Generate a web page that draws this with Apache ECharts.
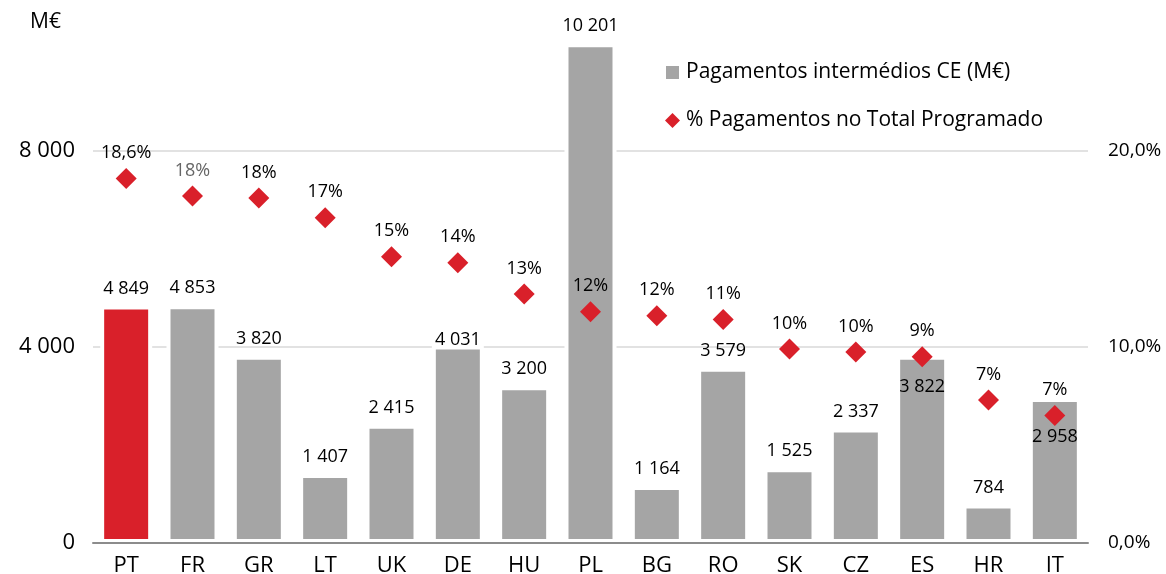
<!DOCTYPE html>
<html>
<head>
<meta charset="utf-8">
<script src="https://cdn.jsdelivr.net/npm/echarts@6/dist/echarts.min.js"></script>
<style>
  html, body { margin: 0; padding: 0; background: #fff; }
  #chart { width: 1166px; height: 574px; }
</style>
</head>
<body>
<div id="chart"></div>
<script>
// dados
var countries = ['PT', 'FR', 'GR', 'LT', 'UK', 'DE', 'HU', 'PL', 'BG', 'RO', 'SK', 'CZ', 'ES', 'HR', 'IT'];
var payments = [4849, 4853, 3820, 1407, 2415, 4031, 3200, 10201, 1164, 3579, 1525, 2337, 3822, 784, 2958];
var pctValues = [18.6, 17.7, 17.6, 16.6, 14.6, 14.3, 12.7, 11.8, 11.6, 11.4, 9.9, 9.75, 9.5, 7.3, 6.5];
var pctLabels = ['18,6%', '18%', '18%', '17%', '15%', '14%', '13%', '12%', '12%', '11%', '10%', '10%', '9%', '7%', '7%'];
var leftTicks = [0, 4000, 8000];
var rightTicks = [0, 10, 20];

var barName = 'Pagamentos intermédios CE (M€)';
var pctName = '% Pagamentos no Total Programado';

var RED = '#d9202a';
var GREY = '#a5a5a5';

function fmtThousands(v) {
    return String(v).replace(/\B(?=(\d{3})+(?!\d))/g, ' ');
}

// etiquetas que ficam dentro da barra (para não tapar os losangos)
var labelTweaks = {
    'DE': {position: 'top', distance: -3},
    'ES': {position: 'insideTop', distance: 22},
    'IT': {position: 'insideTop', distance: 30}
};

var barData = payments.map(function (v, i) {
    var item = {value: v};
    if (countries[i] === 'PT') item.itemStyle = {color: RED};
    if (labelTweaks[countries[i]]) item.label = labelTweaks[countries[i]];
    return item;
});

var pctData = pctValues.map(function (v, i) {
    var item = {value: v};
    if (countries[i] === 'FR') item.label = {color: '#666'};
    return item;
});

var chart = echarts.init(document.getElementById('chart'));
chart.setOption({
    animation: false,
    textStyle: {fontFamily: 'Open Sans'},
    grid: {left: 93, right: 78, top: -45, bottom: 31, containLabel: false, outerBoundsMode: 'none'},
    legend: {
        orient: 'vertical',
        left: 659,
        top: 57,
        itemGap: 27,
        itemWidth: 15,
        itemHeight: 15,
        textStyle: {fontSize: 21, color: '#000', fontFamily: 'Open Sans', padding: [0, 0, 0, 1]},
        data: [{name: barName, icon: 'rect'}, {name: pctName, icon: 'diamond'}]
    },
    graphic: [{
        type: 'text',
        left: 30,
        top: 12,
        style: {text: 'M€', font: '21px "Open Sans"', fill: '#000'}
    }],
    xAxis: {
        type: 'category',
        data: countries,
        z: 5,
        axisLine: {lineStyle: {color: '#8c8c8c', width: 2}},
        axisTick: {show: false},
        axisLabel: {fontSize: 22, color: '#000', margin: 12}
    },
    yAxis: [{
        type: 'value',
        min: 0,
        max: 12000,
        interval: 4000,
        axisLine: {show: false},
        axisTick: {show: false},
        splitLine: {lineStyle: {color: '#d9d9d9', width: 1.5}},
        axisLabel: {
            fontSize: 22, color: '#000', margin: 18,
            formatter: function (v) { return leftTicks.indexOf(v) >= 0 ? fmtThousands(v) : ''; }
        }
    }, {
        type: 'value',
        min: 0,
        max: 30,
        interval: 10,
        axisLine: {show: false},
        axisTick: {show: false},
        splitLine: {show: false},
        axisLabel: {
            fontSize: 19, color: '#000', margin: 20,
            formatter: function (v) {
                return rightTicks.indexOf(v) >= 0 ? v.toFixed(1).replace('.', ',') + '%' : '';
            }
        }
    }],
    series: [{
        name: barName,
        type: 'bar',
        data: barData,
        barWidth: 52,
        itemStyle: {color: GREY, borderColor: '#fff', borderWidth: 4},
        label: {
            show: true,
            position: 'top',
            distance: 8,
            fontFamily: 'Open Sans',
            fontSize: 18,
            color: '#000',
            formatter: function (p) { return fmtThousands(p.value); }
        },
        z: 2
    }, {
        name: pctName,
        type: 'scatter',
        yAxisIndex: 1,
        data: pctData,
        symbol: 'diamond',
        symbolSize: 21,
        itemStyle: {color: RED, opacity: 1},
        label: {
            show: true,
            position: 'top',
            distance: 6,
            fontFamily: 'Open Sans',
            fontSize: 18,
            color: '#000',
            formatter: function (p) { return pctLabels[p.dataIndex]; }
        },
        z: 4
    }]
});
</script>
</body>
</html>
